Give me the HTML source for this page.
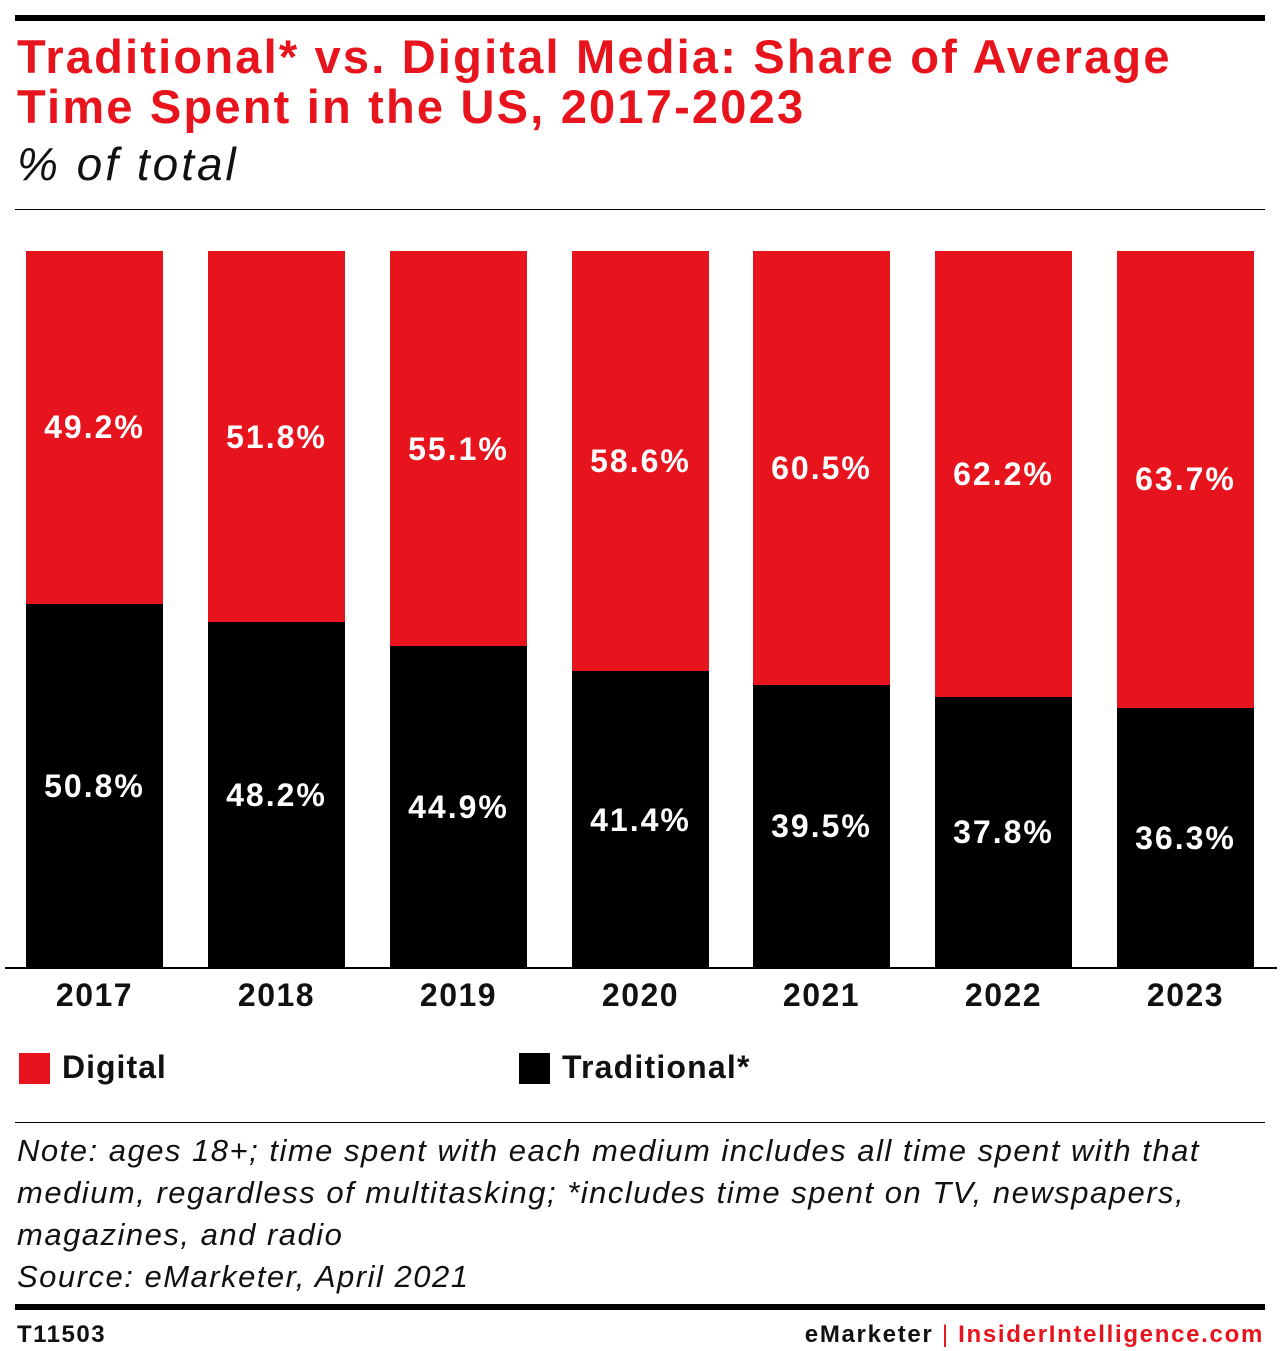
<!DOCTYPE html>
<html><head><meta charset="utf-8"><style>
body{margin:0;width:1280px;height:1351px;background:#fff;font-family:"Liberation Sans",sans-serif;position:relative;overflow:hidden}
.a{position:absolute}
.bar{position:absolute;width:137px}
.lbl{position:absolute;width:137px;text-align:center;color:#fff;font-weight:bold;font-size:32px;line-height:32px;letter-spacing:2px}
.yr{position:absolute;width:137px;text-align:center;color:#111;font-weight:bold;font-size:32px;top:977px;letter-spacing:1.5px}
.note{font-style:italic;font-size:31px;color:#111;line-height:42px;letter-spacing:1.5px}
</style></head><body>
<div class="a" style="left:15px;top:15px;width:1250px;height:6px;background:#000"></div>
<div class="a" style="left:17px;top:32px;color:#e8141d;font-weight:bold;font-size:47px;line-height:50px;letter-spacing:2.2px">Traditional* vs. Digital Media: Share of Average<br>Time Spent in the US, 2017-2023</div>
<div class="a" style="left:17px;top:137px;font-style:italic;font-size:46px;color:#111;letter-spacing:3px">% of total</div>
<div class="a" style="left:15px;top:209px;width:1250px;height:1px;background:#000"></div>

<div id="bars"></div>
<script>
var d=[50.8,48.2,44.9,41.4,39.5,37.8,36.3],x=[26,208,390,572,753,935,1117],yr=[2017,2018,2019,2020,2021,2022,2023];
var h='';
for(var i=0;i<7;i++){var dg=(100-d[i]);var yb=251+dg/100*717;
h+='<div class="bar" style="left:'+x[i]+'px;top:251px;height:'+(yb-251)+'px;background:#e8141d"></div>';
h+='<div class="bar" style="left:'+x[i]+'px;top:'+yb+'px;height:'+(968-yb)+'px;background:#000"></div>';
h+='<div class="lbl" style="left:'+x[i]+'px;top:'+((251+yb)/2-16)+'px">'+dg.toFixed(1)+'%</div>';
h+='<div class="lbl" style="left:'+x[i]+'px;top:'+((yb+968)/2-16)+'px">'+d[i].toFixed(1)+'%</div>';
h+='<div class="yr" style="left:'+x[i]+'px">'+yr[i]+'</div>';}
document.getElementById('bars').innerHTML=h;
</script>
<div class="a" style="left:5px;top:967px;width:1272px;height:2px;background:#000"></div>

<div class="a" style="left:19px;top:1053px;width:31px;height:31px;background:#e8141d"></div>
<div class="a" style="left:62px;top:1049px;font-weight:bold;font-size:32px;color:#111;letter-spacing:1px">Digital</div>
<div class="a" style="left:519px;top:1053px;width:31px;height:31px;background:#000"></div>
<div class="a" style="left:562px;top:1049px;font-weight:bold;font-size:32px;color:#111;letter-spacing:1.2px">Traditional*</div>

<div class="a" style="left:15px;top:1122px;width:1250px;height:1px;background:#000"></div>
<div class="a note" style="left:17px;top:1130px">Note: ages 18+; time spent with each medium includes all time spent with that<br>medium, regardless of multitasking; *includes time spent on TV, newspapers,<br>magazines, and radio<br>Source: eMarketer, April 2021</div>
<div class="a" style="left:15px;top:1304px;width:1250px;height:6px;background:#000"></div>
<div class="a" style="left:17px;top:1321px;font-weight:bold;font-size:24px;color:#111;letter-spacing:1.5px">T11503</div>
<div class="a" style="right:16px;top:1321px;font-weight:bold;font-size:24px;color:#111;letter-spacing:1.7px">eMarketer <span style="color:#e8141d;font-weight:normal">|</span> <span style="color:#e8141d">InsiderIntelligence.com</span></div>
</body></html>
